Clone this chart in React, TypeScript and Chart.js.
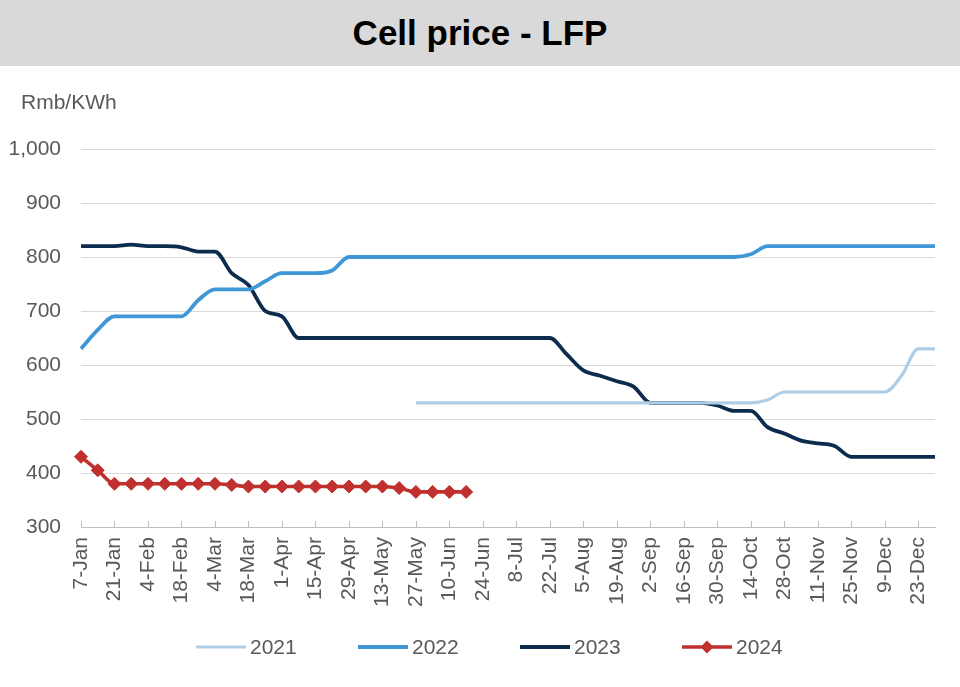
import React, { useEffect, useRef } from "react";
import { Chart, registerables } from "chart.js";

Chart.register(...registerables);

// ---------- Data ----------
const weeks: string[] = [
  "7-Jan", "14-Jan", "21-Jan", "28-Jan", "4-Feb", "11-Feb", "18-Feb", "25-Feb",
  "4-Mar", "11-Mar", "18-Mar", "25-Mar", "1-Apr", "8-Apr", "15-Apr", "22-Apr",
  "29-Apr", "6-May", "13-May", "20-May", "27-May", "3-Jun", "10-Jun", "17-Jun",
  "24-Jun", "1-Jul", "8-Jul", "15-Jul", "22-Jul", "29-Jul", "5-Aug", "12-Aug",
  "19-Aug", "26-Aug", "2-Sep", "9-Sep", "16-Sep", "23-Sep", "30-Sep", "7-Oct",
  "14-Oct", "21-Oct", "28-Oct", "4-Nov", "11-Nov", "18-Nov", "25-Nov", "2-Dec",
  "9-Dec", "16-Dec", "23-Dec", "30-Dec",
];

const price2021: (number | null)[] = [
  null, null, null, null, null, null, null, null, null, null,
  null, null, null, null, null, null, null, null, null, null,
  530, 530, 530, 530, 530, 530, 530, 530, 530, 530,
  530, 530, 530, 530, 530, 530, 530, 530, 530, 530,
  530, 535, 550, 550, 550, 550, 550, 550, 550, 580,
  630, 630,
];

const price2022: number[] = [
  630, 665, 690, 690, 690, 690, 690, 720, 740, 740,
  740, 755, 770, 770, 770, 775, 800, 800, 800, 800,
  800, 800, 800, 800, 800, 800, 800, 800, 800, 800,
  800, 800, 800, 800, 800, 800, 800, 800, 800, 800,
  805, 820, 820, 820, 820, 820, 820, 820, 820, 820,
  820, 820,
];

const price2023: number[] = [
  820, 820, 820, 823, 820, 820, 818, 810, 810, 770,
  748, 700, 690, 650, 650, 650, 650, 650, 650, 650,
  650, 650, 650, 650, 650, 650, 650, 650, 650, 620,
  590, 580, 570, 560, 530, 530, 530, 530, 525, 515,
  515, 485, 473, 460, 455, 450, 430, 430, 430, 430,
  430, 430,
];

const price2024: number[] = [
  430, 405, 380, 380, 380, 380, 380, 380, 380, 378,
  375, 375, 375, 375, 375, 375, 375, 375, 375, 372,
  365, 365, 365, 365,
];

const seriesNames = ["2021", "2022", "2023", "2024"];
const seriesColors = ["#b0cde6", "#3f97d8", "#0c2c4e", "#c0302e"];

const yMin = 300;
const yMax = 1000;
const yStep = 100;
const labelEvery = 2;
const unitLabel = "Rmb/KWh";
const titleText = "Cell price - LFP";

const FONT = "'Liberation Sans', Arial, Helvetica, sans-serif";
const TEXT = "#595959";
const FS = 21;

const extrasPlugin = {
  id: "extras",
  afterDraw(chart: any) {
    const ctx = chart.ctx as CanvasRenderingContext2D;
    const x = chart.scales.x;
    const area = chart.chartArea;
    ctx.save();
    // unit label
    ctx.font = `${FS}px ${FONT}`;
    ctx.fillStyle = TEXT;
    ctx.textAlign = "left";
    ctx.textBaseline = "middle";
    ctx.fillText(unitLabel, 21, 37);

    // inside tick marks
    ctx.strokeStyle = "#bfbfbf";
    ctx.lineWidth = 1;
    ctx.beginPath();
    for (let i = 0; i < weeks.length; i += labelEvery) {
      const px = Math.round(x.getPixelForValue(i)) + 0.5;
      ctx.moveTo(px, area.bottom);
      ctx.lineTo(px, area.bottom - 6);
    }
    ctx.stroke();

    // legend
    const ds = chart.data.datasets;
    const lineW = 50;
    const gap = 4;
    const step = 162;
    const startX = 196;
    const ly = 581;
    ctx.font = `${FS}px ${FONT}`;
    ds.forEach((d: any, i: number) => {
      const cx = startX + i * step;
      ctx.strokeStyle = d.borderColor;
      ctx.lineWidth = d.borderWidth;
      ctx.beginPath();
      ctx.moveTo(cx, ly);
      ctx.lineTo(cx + lineW, ly);
      ctx.stroke();
      if (d.pointRadius && d.pointRadius > 0) {
        const r = d.pointRadius;
        const mx = cx + lineW / 2;
        ctx.fillStyle = d.pointBackgroundColor;
        ctx.beginPath();
        ctx.moveTo(mx, ly - r);
        ctx.lineTo(mx + r, ly);
        ctx.lineTo(mx, ly + r);
        ctx.lineTo(mx - r, ly);
        ctx.closePath();
        ctx.fill();
      }
      ctx.fillStyle = TEXT;
      ctx.textAlign = "left";
      ctx.textBaseline = "middle";
      ctx.fillText(d.label, cx + lineW + gap, ly + 1);
    });
    ctx.restore();
  },
};

export default function App() {
  const ref = useRef<HTMLCanvasElement>(null);

  useEffect(() => {
    document.body.style.margin = "0";
    Chart.defaults.font.family = FONT;
    Chart.defaults.font.size = FS;
    Chart.defaults.color = TEXT;

    const mk = (i: number, data: (number | null)[], width: number, point = false) => ({
      label: seriesNames[i],
      data,
      borderColor: seriesColors[i],
      backgroundColor: seriesColors[i],
      pointBackgroundColor: seriesColors[i],
      pointBorderColor: seriesColors[i],
      borderWidth: width,
      pointStyle: "rectRot" as const,
      pointRadius: point ? 6.5 : 0,
      pointHoverRadius: point ? 6.5 : 0,
      pointBorderWidth: 1,
      cubicInterpolationMode: "monotone" as const,
      spanGaps: false,
      fill: false,
      borderCapStyle: "butt" as const,
      borderJoinStyle: "round" as const,
    });

    const chart = new Chart(ref.current!, {
      type: "line",
      data: {
        labels: weeks,
        datasets: [
          mk(0, price2021, 3.2),
          mk(1, price2022, 3.8),
          mk(2, price2023, 3.8),
          mk(3, price2024, 3.6, true),
        ],
      },
      options: {
        animation: false,
        responsive: true,
        maintainAspectRatio: false,
        layout: { padding: { top: 83, right: 25, left: 0, bottom: 0 } },
        plugins: {
          legend: { display: false },
          title: { display: false },
          tooltip: { enabled: false },
        },
        scales: {
          x: {
            offset: false,
            grid: { drawOnChartArea: false, drawTicks: false },
            border: { display: true, color: "#bfbfbf", width: 1 },
            ticks: {
              autoSkip: false,
              maxRotation: 90,
              minRotation: 90,
              padding: 10,
              color: TEXT,
              font: { size: FS },
              callback: (_v: any, i: number) => (i % labelEvery === 0 ? weeks[i] : null),
            },
            afterFit: (s: any) => {
              s.height = 160;
            },
          },
          y: {
            min: yMin,
            max: yMax,
            grid: { color: "#d9d9d9", lineWidth: 1, drawTicks: false },
            border: { display: false },
            ticks: {
              stepSize: yStep,
              padding: 20,
              color: TEXT,
              font: { size: FS },
              callback: (v: any) => Number(v).toLocaleString("en-US"),
            },
            afterFit: (s: any) => {
              s.width = 81;
            },
          },
        },
      },
      plugins: [extrasPlugin],
    });
    return () => chart.destroy();
  }, []);

  return (
    <div style={{ width: 960, height: 687, position: "relative", background: "#fff", overflow: "hidden" }}>
      <div
        style={{
          height: 66,
          background: "#d9d9d9",
          display: "flex",
          alignItems: "center",
          justifyContent: "center",
          font: `bold 35px ${FONT}`,
          color: "#000",
        }}
      >
        {titleText}
      </div>
      <div style={{ position: "relative", width: 960, height: 621 }}>
        <canvas ref={ref} />
      </div>
    </div>
  );
}
